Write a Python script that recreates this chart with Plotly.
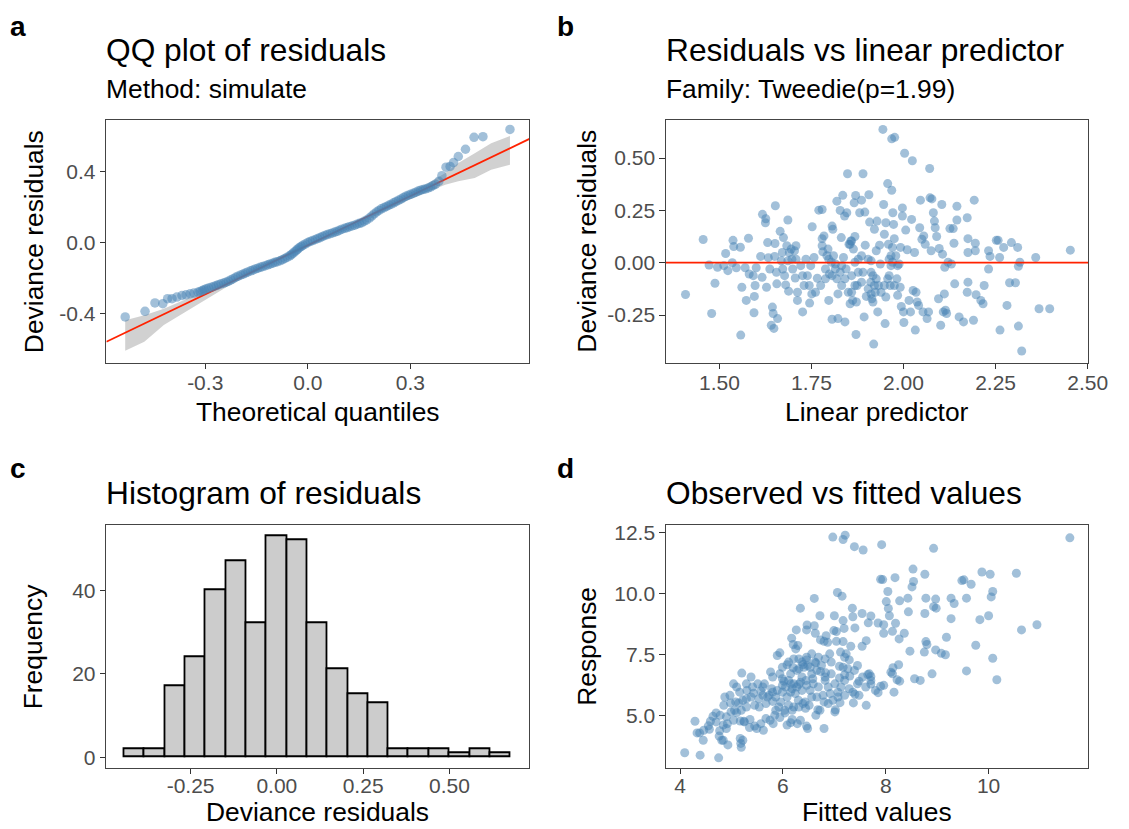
import plotly.graph_objects as go

W, H = 1129, 829
FONT = "Liberation Sans, Arial, Helvetica, sans-serif"
BLUE = "#4682B4"
RED = "#FF2200"

# ---------------- Panel a: QQ plot ----------------
qq_theoretical = [
    -0.534, -0.476, -0.447, -0.424, -0.410, -0.397, -0.383, -0.368, -0.356, -0.344,
    -0.333, -0.321, -0.315, -0.308, -0.303, -0.297, -0.290, -0.282, -0.275, -0.268,
    -0.261, -0.254, -0.246, -0.239, -0.232, -0.225, -0.218, -0.211, -0.204, -0.196,
    -0.189, -0.182, -0.175, -0.167, -0.160, -0.153, -0.146, -0.139, -0.132, -0.124,
    -0.117, -0.110, -0.103, -0.096, -0.089, -0.081, -0.074, -0.067, -0.060, -0.053,
    -0.048, -0.043, -0.038, -0.033, -0.029, -0.024, -0.019, -0.014, -0.007, 0.000,
    0.007, 0.014, 0.022, 0.029, 0.036, 0.043, 0.050, 0.057, 0.065, 0.072,
    0.079, 0.086, 0.093, 0.100, 0.108, 0.115, 0.122, 0.129, 0.137, 0.144,
    0.151, 0.158, 0.165, 0.172, 0.180, 0.187, 0.194, 0.201, 0.208, 0.215,
    0.223, 0.230, 0.237, 0.244, 0.251, 0.258, 0.266, 0.273, 0.280, 0.287,
    0.294, 0.301, 0.309, 0.316, 0.323, 0.330, 0.337, 0.344, 0.352, 0.359,
    0.366, 0.373, 0.383, 0.392, 0.404, 0.416, 0.426, 0.440, 0.461, 0.486,
    0.512, 0.591,
]
qq_residuals = [
    -0.420, -0.388, -0.341, -0.345, -0.317, -0.317, -0.308, -0.299, -0.295, -0.289,
    -0.285, -0.280, -0.276, -0.271, -0.266, -0.261, -0.257, -0.252, -0.248, -0.243,
    -0.238, -0.233, -0.229, -0.224, -0.218, -0.211, -0.204, -0.196, -0.190, -0.183,
    -0.178, -0.172, -0.166, -0.160, -0.155, -0.149, -0.145, -0.140, -0.136, -0.131,
    -0.126, -0.121, -0.117, -0.112, -0.108, -0.103, -0.097, -0.090, -0.083, -0.075,
    -0.068, -0.060, -0.052, -0.043, -0.036, -0.028, -0.022, -0.015, -0.008, 0.000,
    0.006, 0.011, 0.017, 0.022, 0.028, 0.034, 0.040, 0.045, 0.050, 0.054,
    0.059, 0.063, 0.069, 0.075, 0.080, 0.084, 0.089, 0.093, 0.098, 0.103,
    0.108, 0.112, 0.120, 0.127, 0.138, 0.149, 0.161, 0.172, 0.181, 0.190,
    0.197, 0.203, 0.210, 0.216, 0.224, 0.231, 0.239, 0.246, 0.254, 0.261,
    0.267, 0.272, 0.278, 0.284, 0.290, 0.295, 0.299, 0.302, 0.308, 0.313,
    0.321, 0.328, 0.345, 0.377, 0.425, 0.429, 0.451, 0.485, 0.526, 0.593,
    0.597, 0.638,
]
qq_band_x = [-0.534, -0.478, -0.421, -0.335, -0.230, -0.115, 0.000, 0.115,
             0.249, 0.344, 0.402, 0.440, 0.488, 0.536, 0.591]
qq_band_lower = [-0.610, -0.560, -0.466, -0.364, -0.243, -0.131, -0.024, 0.075,
                 0.201, 0.280, 0.326, 0.345, 0.364, 0.410, 0.438]
qq_band_upper = [-0.438, -0.410, -0.373, -0.304, -0.215, -0.106, -0.006, 0.093,
                 0.228, 0.326, 0.392, 0.448, 0.504, 0.560, 0.601]
qq_line_intercept = -0.015
qq_line_slope = 0.925

# ---------------- Panel b: residuals vs linear predictor ----------------
lin_pred = [
    1.408, 1.456, 1.472, 1.488, 1.479, 1.495, 1.517, 1.523, 1.512, 1.537,
    1.539, 1.535, 1.546, 1.557, 1.558, 1.561, 1.570, 1.573, 1.579, 1.581,
    1.592, 1.597, 1.594, 1.600, 1.595, 1.612, 1.617, 1.626, 1.625, 1.616,
    1.628, 1.631, 1.633, 1.644, 1.646, 1.641, 1.648, 1.652, 1.651, 1.650,
    1.656, 1.658, 1.665, 1.674, 1.671, 1.668, 1.677, 1.680, 1.686, 1.683,
    1.688, 1.690, 1.695, 1.697, 1.699, 1.704, 1.708, 1.712, 1.712, 1.706,
    1.726, 1.726, 1.730, 1.735, 1.745, 1.748, 1.752, 1.751, 1.757, 1.766,
    1.770, 1.779, 1.779, 1.781, 1.784, 1.788, 1.795, 1.797, 1.797, 1.799,
    1.806, 1.808, 1.806, 1.810, 1.815, 1.819, 1.822, 1.822, 1.828, 1.831,
    1.832, 1.835, 1.837, 1.840, 1.841, 1.844, 1.846, 1.848, 1.850, 1.852,
    1.855, 1.857, 1.859, 1.862, 1.866, 1.868, 1.870, 1.871, 1.872, 1.874,
    1.877, 1.881, 1.886, 1.890, 1.890, 1.893, 1.895, 1.896, 1.899, 1.904,
    1.906, 1.908, 1.911, 1.912, 1.914, 1.917, 1.919, 1.921, 1.923, 1.926,
    1.928, 1.930, 1.932, 1.935, 1.937, 1.944, 1.946, 1.948, 1.950, 1.952,
    1.952, 1.957, 1.959, 1.961, 1.964, 1.966, 1.968, 1.968, 1.970, 1.971,
    1.973, 1.975, 1.976, 1.979, 1.982, 1.984, 1.988, 1.991, 1.992, 1.994,
    1.997, 1.997, 2.000, 2.001, 2.003, 2.006, 2.010, 2.015, 2.019, 2.022,
    2.024, 2.026, 2.030, 2.032, 2.034, 2.037, 2.041, 2.044, 2.046, 2.050,
    2.053, 2.055, 2.059, 2.064, 2.068, 2.071, 2.072, 2.075, 2.077, 2.081,
    2.084, 2.086, 2.090, 2.095, 2.097, 2.101, 2.104, 2.106, 2.108, 2.111,
    2.112, 2.114, 2.117, 2.121, 2.126, 2.130, 2.135, 2.137, 2.139, 2.145,
    2.145, 2.151, 2.163, 2.173, 2.175, 2.175, 2.175, 2.173, 2.190, 2.192,
    2.195, 2.197, 2.195, 2.210, 2.216, 2.219, 2.231, 2.231, 2.235, 2.252,
    2.257, 2.261, 2.262, 2.272, 2.281, 2.288, 2.293, 2.304, 2.310, 2.312,
    2.312, 2.316, 2.321, 2.359, 2.368, 2.397, 2.453,
    1.779, 1.792, 1.804, 1.815, 1.828, 1.841, 1.855, 1.859, 1.864, 1.868,
    1.877, 1.886, 1.904, 1.912, 1.917, 1.921, 1.832, 1.819, 1.806, 1.788,
    1.775, 1.761, 1.744, 1.739, 1.721, 1.708, 1.686, 1.672, 1.655, 1.637,
    1.966, 1.970, 1.961, 1.957, 1.948, 1.939, 1.975, 1.984, 1.912, 1.926,
    1.886, 1.868, 1.859,
]
dev_resid = [
    -0.152, 0.111, -0.011, -0.098, -0.243, -0.022, 0.044, -0.038, -0.014, 0.107,
    0.077, 0.000, -0.024, 0.074, -0.346, -0.117, -0.024, -0.180, 0.117, -0.054,
    -0.062, -0.109, -0.239, -0.024, -0.161, 0.030, 0.231, 0.210, 0.191, -0.070,
    -0.117, 0.096, 0.024, -0.212, -0.243, -0.299, -0.314, 0.272, 0.092, 0.030,
    -0.101, -0.267, 0.150, 0.120, 0.049, 0.009, -0.062, -0.106, 0.204, 0.081,
    -0.136, 0.049, 0.065, 0.017, -0.030, 0.057, 0.081, -0.180, -0.141, -0.073,
    -0.235, -0.062, -0.109, 0.017, -0.193, -0.014, 0.172, -0.149, 0.025, -0.074,
    0.251, 0.254, 0.115, 0.052, 0.128, -0.030, 0.065, 0.017, -0.180, -0.054,
    0.175, 0.160, -0.270, 0.033, -0.006, 0.294, -0.149, -0.267, 0.250, 0.120,
    -0.014, 0.322, 0.025, 0.223, -0.283, -0.030, 0.239, 0.425, -0.141, 0.088,
    -0.196, 0.104, -0.062, -0.180, 0.286, 0.125, 0.321, -0.343, -0.188, -0.109,
    0.017, 0.239, 0.299, 0.425, -0.046, -0.259, 0.242, 0.084, -0.161, 0.017,
    0.325, 0.194, -0.093, 0.009, -0.172, -0.062, -0.389, 0.160, -0.141, 0.057,
    0.199, -0.235, -0.109, 0.084, -0.006, 0.637, 0.278, 0.136, -0.291, 0.191,
    -0.164, 0.378, 0.088, -0.062, -0.109, -0.014, 0.346, 0.592, 0.073, 0.239,
    0.183, 0.115, 0.599, 0.033, -0.077, -0.156, -0.006, -0.117, 0.073, -0.209,
    0.262, 0.223, -0.235, -0.286, 0.523, 0.156, 0.062, -0.180, -0.235, 0.207,
    0.487, -0.133, 0.049, -0.322, -0.141, -0.188, -0.204, 0.167, 0.299, 0.112,
    -0.235, 0.128, 0.088, -0.267, -0.235, 0.450, 0.310, 0.057, 0.305, 0.239,
    0.199, 0.167, 0.125, -0.172, 0.068, -0.299, 0.278, 0.041, -0.235, -0.149,
    -0.022, -0.227, -0.243, 0.002, 0.163, -0.006, 0.163, 0.093, -0.101, 0.270,
    0.204, -0.259, -0.283, 0.215, 0.115, 0.049, -0.093, -0.141, -0.275, 0.299,
    0.093, -0.153, 0.057, -0.180, -0.196, -0.109, 0.057, -0.030, 0.030, 0.107,
    0.107, 0.025, -0.322, 0.073, -0.204, -0.096, 0.096, -0.096, 0.073, -0.017,
    -0.303, 0.002, -0.422, 0.025, -0.220, -0.220, 0.060,
    0.081, 0.033, 0.002, -0.030, -0.046, -0.077, 0.088, 0.104, 0.065, 0.002,
    -0.046, -0.093, -0.125, -0.149, -0.188, -0.109, -0.109, -0.077, -0.062, -0.077,
    -0.109, -0.141, -0.109, -0.062, -0.014, 0.017, 0.009, -0.030, -0.046, -0.030,
    0.033, 0.002, 0.017, -0.077, -0.109, -0.141, -0.109, -0.014, -0.046, -0.077,
    0.033, -0.109, -0.141,
]

# ---------------- Panel c: histogram ----------------
hist_bin_centers = [-0.412, -0.353, -0.294, -0.236, -0.177, -0.118, -0.059, 0.000,
                    0.059, 0.118, 0.177, 0.236, 0.294, 0.353, 0.412, 0.471,
                    0.530, 0.589, 0.648]
hist_counts = [2, 2, 17, 24, 40, 47, 32, 53, 52, 32, 21, 15, 13, 2, 2, 2, 1, 2, 1]
hist_bin_width = 0.0589

# ---------------- Panel d: observed vs fitted ----------------
fitted_vals = [
    6.97, 7.17, 7.21, 7.39, 7.56, 7.92, 8.93, 11.58, 8.53, 8.76,
    7.90, 7.94, 8.18, 8.54, 8.51, 9.87, 10.03, 10.54, 9.48, 9.52,
    9.66, 8.04, 7.06, 7.15, 6.61, 10.08, 10.05, 8.27, 8.43, 8.78,
    8.97, 9.27, 9.33, 9.57, 8.01, 8.05, 8.93, 8.98, 6.34, 7.35,
    8.44, 8.76, 8.07, 7.54, 7.71, 7.00, 6.72, 7.36, 7.17, 9.27,
    9.83, 10.00, 7.85, 7.66, 7.96, 8.19, 6.47, 6.61, 6.46, 6.26,
    6.63, 6.84, 6.99, 7.04, 7.19, 7.40, 7.96, 8.13, 8.36, 8.26,
    10.64, 10.94, 6.17, 6.73, 6.80, 6.87, 7.04, 7.17, 7.62, 7.54,
    7.32, 6.20, 6.29, 6.25, 9.18, 8.78, 8.80, 9.75, 8.47, 8.75,
    8.97, 9.08, 9.16, 10.08, 5.89, 5.94, 6.91, 7.12, 7.23, 7.20,
    7.29, 6.11, 6.08, 6.46, 6.48, 6.64, 6.73, 6.83, 6.39, 6.41,
    6.20, 6.27, 5.20, 5.38, 5.76, 5.94, 7.10, 7.20, 7.30, 7.65,
    7.68, 7.71, 7.48, 7.71, 7.90, 7.85, 8.16, 8.10, 8.25, 8.14,
    8.13, 8.22, 8.27, 8.56, 8.67, 8.90, 9.57, 10.16, 5.04, 5.10,
    5.30, 5.43, 5.57, 5.61, 5.78, 5.80, 5.99, 6.02, 6.15, 6.18,
    6.31, 6.37, 6.45, 6.58, 6.59, 6.69, 6.82, 6.88, 6.92, 7.01,
    7.10, 7.07, 7.13, 7.20, 7.36, 7.40, 7.48, 7.11, 7.02, 7.01,
    7.37, 7.62, 6.80, 6.78, 6.66, 6.51, 6.44, 6.39, 6.30, 6.21,
    6.11, 6.03, 5.92, 5.86, 5.80, 5.70, 5.61, 5.53, 5.38, 5.29,
    5.22, 5.14, 5.08, 4.98, 4.85, 4.99, 5.10, 5.17, 5.25, 5.36,
    5.45, 5.57, 5.67, 5.75, 5.84, 5.94, 6.04, 6.18, 6.34, 6.46,
    6.64, 6.68, 6.80, 6.48, 6.08, 6.15, 6.28, 5.81, 5.62, 5.49,
    5.35, 5.24, 5.04, 4.92, 4.84, 4.90, 4.77, 4.70, 4.64, 4.70,
    4.59, 4.55, 4.46, 4.38, 4.33, 4.45, 4.57, 4.29, 4.76, 4.84,
    4.93, 4.81, 5.18, 5.19, 5.22, 5.17, 4.09, 4.39, 4.75,
    6.21, 6.27, 6.34, 6.11, 6.05, 6.15, 6.24, 6.37, 6.46, 6.53,
    6.56, 6.43, 6.31, 6.56, 6.66, 6.75, 6.82, 6.94, 6.62, 6.53,
    6.37, 6.31, 6.15, 5.99, 5.99, 5.89, 5.73, 5.67, 5.54, 5.45,
    5.29, 5.19, 5.06, 4.90, 4.78, 5.86, 5.96, 6.08, 6.18, 6.72,
    6.88, 6.97, 7.07, 7.20, 7.29, 7.45, 7.55, 7.61, 7.71, 7.80,
    7.96, 7.17, 7.26, 7.39, 7.45, 6.94, 6.82, 6.69, 6.56, 6.46,
    6.21, 6.31, 5.99, 5.80, 5.64, 5.51, 5.41, 5.29, 5.16, 4.97,
    4.87,
]
response_vals = [
    12.31, 12.21, 12.39, 11.92, 11.78, 12.00, 11.85, 12.28, 11.00, 10.79,
    10.58, 10.57, 10.65, 10.49, 10.27, 10.88, 10.79, 10.83, 10.53, 10.56,
    10.38, 10.08, 10.04, 9.89, 9.80, 10.08, 9.86, 9.70, 9.81, 9.81,
    9.77, 9.81, 9.59, 9.81, 9.67, 9.39, 9.46, 9.40, 9.40, 9.40,
    9.25, 9.18, 9.09, 9.18, 9.08, 9.09, 9.09, 9.05, 8.89, 8.97,
    8.93, 9.09, 8.79, 8.80, 8.72, 8.78, 8.71, 8.68, 8.51, 8.51,
    8.37, 8.27, 8.48, 8.44, 8.57, 8.59, 8.37, 8.45, 8.37, 8.14,
    8.51, 8.72, 8.17, 8.10, 8.04, 8.00, 8.04, 8.03, 8.07, 7.84,
    7.84, 7.91, 7.87, 7.73, 8.21, 8.03, 7.91, 7.88, 7.64, 7.60,
    7.69, 7.55, 7.49, 7.35, 7.46, 7.57, 7.53, 7.60, 7.53, 7.39,
    7.28, 7.19, 7.08, 7.28, 7.05, 7.16, 6.81, 6.75, 7.09, 6.98,
    6.96, 6.85, 6.74, 6.58, 6.79, 6.71, 7.02, 6.67, 6.62, 6.68,
    6.71, 6.60, 6.41, 6.29, 6.20, 5.94, 5.96, 6.78, 7.08, 6.96,
    6.71, 6.47, 6.41, 6.51, 6.44, 6.71, 6.83, 6.47, 6.30, 6.17,
    6.03, 5.92, 6.01, 6.17, 6.10, 5.96, 6.24, 6.41, 6.30, 6.10,
    6.28, 6.03, 6.44, 6.51, 6.30, 6.17, 6.44, 6.17, 5.90, 6.30,
    6.54, 5.96, 6.17, 6.44, 5.96, 5.87, 5.83, 5.53, 5.24, 5.15,
    5.52, 5.42, 5.56, 5.83, 5.76, 5.42, 5.30, 5.49, 5.63, 5.35,
    5.42, 5.22, 5.35, 5.76, 5.58, 5.76, 5.83, 5.69, 5.76, 5.69,
    5.63, 5.52, 5.56, 5.52, 5.42, 5.15, 5.12, 4.78, 4.74, 4.84,
    4.57, 4.67, 4.88, 4.81, 5.01, 4.92, 5.11, 4.84, 4.81, 4.57,
    5.01, 5.24, 4.47, 4.47, 4.61, 4.71, 4.67, 4.67, 4.40, 4.47,
    4.51, 4.77, 4.81, 4.67, 4.61, 4.47, 4.38, 4.74, 4.97, 5.11,
    4.77, 4.58, 4.40, 4.29, 4.29, 3.99, 4.44, 4.77, 4.16, 3.99,
    3.80, 3.99, 3.86, 3.70, 3.99, 4.06, 3.48, 3.38, 3.27,
    6.30, 6.17, 6.37, 6.44, 6.17, 5.96, 5.90, 6.58, 6.24, 6.03,
    5.76, 5.56, 5.35, 6.71, 6.85, 7.05, 6.58, 6.71, 7.19, 6.98,
    7.19, 6.92, 6.71, 6.51, 5.96, 6.03, 5.83, 5.49, 5.35, 5.42,
    5.35, 5.22, 5.22, 4.95, 5.01, 5.22, 5.56, 5.76, 5.22, 5.22,
    5.49, 5.63, 5.76, 5.83, 6.10, 6.30, 6.58, 6.17, 6.44, 6.03,
    6.24, 6.98, 6.92, 6.85, 7.05, 7.19, 7.32, 7.39, 7.53, 7.39,
    7.32, 7.32, 6.98, 6.58, 6.30, 6.30, 6.17, 6.30, 5.96, 5.83,
    5.76,
]

# tick labels
a_xticks = [-0.3, 0.0, 0.3]
a_xlabels = ["-0.3", "0.0", "0.3"]
a_yticks = [-0.4, 0.0, 0.4]
a_ylabels = ["-0.4", "0.0", "0.4"]
b_xticks = [1.50, 1.75, 2.00, 2.25, 2.50]
b_xlabels = ["1.50", "1.75", "2.00", "2.25", "2.50"]
b_yticks = [-0.25, 0.0, 0.25, 0.50]
b_ylabels = ["-0.25", "0.00", "0.25", "0.50"]
c_xticks = [-0.25, 0.0, 0.25, 0.50]
c_xlabels = ["-0.25", "0.00", "0.25", "0.50"]
c_yticks = [0, 20, 40]
c_ylabels = ["0", "20", "40"]
d_xticks = [4, 6, 8, 10]
d_xlabels = ["4", "6", "8", "10"]
d_yticks = [5.0, 7.5, 10.0, 12.5]
d_ylabels = ["5.0", "7.5", "10.0", "12.5"]

# ---------------- layout geometry (pixels) ----------------
def fx(px):
    return px / W


def fy(py):
    return 1 - py / H


BOX = {
    "a": (108.3, 539.0, 116.7, 360.7),
    "b": (678.0, 1108.0, 116.7, 360.7),
    "c": (108.3, 539.0, 524.3, 768.3),
    "d": (678.0, 1108.0, 524.3, 768.3),
}
RANGES = {
    "a": ([-0.589, 0.648], [-0.677, 0.691]),
    "b": ([1.355, 2.502], [-0.477, 0.682]),
    "c": ([-0.494, 0.732], [-2.52, 55.6]),
    "d": ([3.726, 11.94], [2.867, 12.80]),
}
XSTANDOFF = {"a": -4, "b": -4, "c": -7, "d": -7}

fig = go.Figure()

# Panel a
fig.add_trace(go.Scatter(
    x=qq_band_x + qq_band_x[::-1], y=qq_band_lower + qq_band_upper[::-1],
    fill="toself", fillcolor="rgba(0,0,0,0.18)", line=dict(width=0),
    mode="lines", xaxis="x", yaxis="y", hoverinfo="skip"))
ax_lo, ax_hi = RANGES["a"][0]
fig.add_trace(go.Scatter(
    x=[ax_lo, ax_hi],
    y=[qq_line_intercept + qq_line_slope * ax_lo, qq_line_intercept + qq_line_slope * ax_hi],
    mode="lines", line=dict(color=RED, width=1.8), xaxis="x", yaxis="y"))
fig.add_trace(go.Scatter(
    x=qq_theoretical, y=qq_residuals, mode="markers",
    marker=dict(color=BLUE, size=9.5, opacity=0.5, line=dict(width=0)),
    xaxis="x", yaxis="y"))

# Panel b
fig.add_trace(go.Scatter(
    x=lin_pred, y=dev_resid, mode="markers",
    marker=dict(color=BLUE, size=9, opacity=0.5, line=dict(width=0)),
    xaxis="x2", yaxis="y2"))
bx_lo, bx_hi = RANGES["b"][0]
fig.add_trace(go.Scatter(
    x=[bx_lo, bx_hi], y=[0, 0], mode="lines",
    line=dict(color=RED, width=1.8), xaxis="x2", yaxis="y2"))

# Panel c
fig.add_trace(go.Bar(
    x=hist_bin_centers, y=hist_counts, width=hist_bin_width,
    marker=dict(color="#CCCCCC", line=dict(color="black", width=1.8)),
    xaxis="x3", yaxis="y3"))

# Panel d
fig.add_trace(go.Scatter(
    x=fitted_vals, y=response_vals, mode="markers",
    marker=dict(color=BLUE, size=9, opacity=0.5, line=dict(width=0)),
    xaxis="x4", yaxis="y4"))


def axis(dom, rng, tv, tt, anchor, standoff):
    return dict(
        domain=dom, range=rng, tickmode="array", tickvals=tv, ticktext=tt,
        showline=True, mirror=True, linecolor="#444444", linewidth=1.3,
        ticks="outside", ticklen=5.5, tickwidth=1.2, tickcolor="#333333",
        tickfont=dict(size=21, color="#4D4D4D", family=FONT),
        ticklabelstandoff=standoff,
        showgrid=False, zeroline=False, anchor=anchor, fixedrange=True)


layout_axes = {}
names = ["a", "b", "c", "d"]
ticks = {
    "a": (a_xticks, a_xlabels, a_yticks, a_ylabels),
    "b": (b_xticks, b_xlabels, b_yticks, b_ylabels),
    "c": (c_xticks, c_xlabels, c_yticks, c_ylabels),
    "d": (d_xticks, d_xlabels, d_yticks, d_ylabels),
}
for i, n in enumerate(names):
    suffix = "" if i == 0 else str(i + 1)
    x0, x1, y0, y1 = BOX[n]
    xv, xl, yv, yl = ticks[n]
    layout_axes["xaxis" + suffix] = axis([fx(x0), fx(x1)], RANGES[n][0], xv, xl,
                                         "y" + suffix, XSTANDOFF[n])
    layout_axes["yaxis" + suffix] = axis([fy(y1), fy(y0)], RANGES[n][1], yv, yl,
                                         "x" + suffix, 0)

ann = []


def text(s, px, py, size, xanchor="left", bold=False, angle=0, color="black",
         yanchor="middle"):
    ann.append(dict(
        text=("<b>%s</b>" % s) if bold else s, x=fx(px), y=fy(py),
        xref="paper", yref="paper", xanchor=xanchor, yanchor=yanchor,
        showarrow=False, textangle=angle, borderpad=0,
        font=dict(size=size, family=FONT, color=color)))


# panel tags
text("a", 9, 22.5, 28, bold=True)
text("b", 566, 22.5, 28, bold=True)
text("c", 9, 467, 28, bold=True)
text("d", 566, 467, 28, bold=True)
# titles
text("QQ plot of residuals", 107, 46.5, 31.7)
text("Method: simulate", 107, 85.2, 26.4)
text("Residuals vs linear predictor", 677, 46.5, 31.7)
text("Family: Tweedie(p=1.99)", 677, 85.2, 26.4)
text("Histogram of residuals", 107, 492.3, 31.7)
text("Observed vs fitted values", 677, 492.3, 31.7)
# x axis titles
text("Theoretical quantiles", 323.7, 410, 26.4, xanchor="center")
text("Linear predictor", 893, 410, 26.4, xanchor="center")
text("Deviance residuals", 323.7, 828.5, 26.4, xanchor="center", yanchor="bottom")
text("Fitted values", 893, 828.5, 26.4, xanchor="center", yanchor="bottom")
# y axis titles
text("Deviance residuals", 34.5, 238.7, 26.4, xanchor="center", angle=-90)
text("Deviance residuals", 598, 238.7, 26.4, xanchor="center", angle=-90)
text("Frequency", 34.5, 646.3, 26.4, xanchor="center", angle=-90)
text("Response", 598, 646.3, 26.4, xanchor="center", angle=-90)

fig.update_layout(
    width=W, height=H, margin=dict(l=0, r=0, t=0, b=0),
    paper_bgcolor="white", plot_bgcolor="white",
    showlegend=False, annotations=ann, bargap=0,
    font=dict(family=FONT),
    **layout_axes,
)

fig.write_html("out.html", config={"displayModeBar": False})
